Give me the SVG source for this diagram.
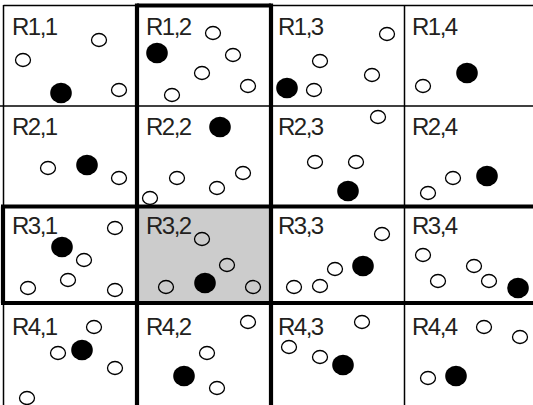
<svg xmlns="http://www.w3.org/2000/svg" width="533" height="405" viewBox="0 0 533 405">
<style>
.t{font-family:"Liberation Sans",Arial,sans-serif;font-size:24px;fill:#231f20;letter-spacing:-1.5px}
.o{fill:none;stroke:#000;stroke-width:1.3}
.f{fill:#000}
.thin{stroke:#000;stroke-width:1.5;fill:none}
.thick{stroke:#000;stroke-width:4.2;fill:none}
</style>
<defs>
<ellipse id="oc" class="o" cx="0" cy="0" rx="7.5" ry="6.5"/>
<ellipse id="fc" class="f" cx="0" cy="0" rx="10.8" ry="10.3"/>
</defs>
<rect width="533" height="405" fill="#fff"/>
<g id="grid">
<rect x="137" y="206.5" width="134" height="96.5" fill="#cccccc"/>
<line class="thin" x1="3.5" y1="5.5" x2="533" y2="5.5"/>
<line class="thin" x1="0" y1="106" x2="533" y2="106"/>
<line class="thin" x1="3.5" y1="5" x2="3.5" y2="405"/>
<line class="thin" x1="404.5" y1="5" x2="404.5" y2="405"/>
<line class="thick" x1="137" y1="5.5" x2="271" y2="5.5"/>
<line class="thick" x1="137" y1="3.5" x2="137" y2="405"/>
<line class="thick" x1="271" y1="3.5" x2="271" y2="405"/>
<line class="thick" x1="1" y1="206.5" x2="533" y2="206.5"/>
<line class="thick" x1="1" y1="303" x2="533" y2="303"/>
<line class="thick" x1="3" y1="206.5" x2="3" y2="303"/>
</g>
<g id="R1_1"><text class="t" x="12" y="35">R1,1</text>
<use href="#oc" x="99" y="40"/><use href="#oc" x="23" y="60"/><use href="#oc" x="119" y="90"/><use href="#fc" x="61" y="93"/></g>
<g id="R1_2"><text class="t" x="146" y="35">R1,2</text>
<use href="#fc" x="157" y="53"/><use href="#oc" x="213" y="33"/><use href="#oc" x="233" y="55"/><use href="#oc" x="202" y="73"/><use href="#oc" x="248" y="86"/><use href="#oc" x="172" y="95"/></g>
<g id="R1_3"><text class="t" x="278" y="35">R1,3</text>
<use href="#oc" x="387" y="34"/><use href="#oc" x="320" y="61"/><use href="#oc" x="372" y="75"/><use href="#oc" x="314" y="90"/><use href="#fc" x="287" y="88"/></g>
<g id="R1_4"><text class="t" x="412" y="35">R1,4</text>
<use href="#fc" x="467" y="73"/><use href="#oc" x="423" y="86"/></g>
<g id="R2_1"><text class="t" x="12" y="135">R2,1</text>
<use href="#oc" x="48" y="168"/><use href="#fc" x="87" y="165"/><use href="#oc" x="119" y="178"/></g>
<g id="R2_2"><text class="t" x="146" y="135">R2,2</text>
<use href="#fc" x="220" y="127"/><use href="#oc" x="243" y="173"/><use href="#oc" x="177" y="178"/><use href="#oc" x="217" y="188"/><use href="#oc" x="150" y="198"/></g>
<g id="R2_3"><text class="t" x="278" y="135">R2,3</text>
<use href="#oc" x="378" y="117"/><use href="#oc" x="315" y="162"/><use href="#oc" x="356" y="162"/><use href="#fc" x="348" y="191"/></g>
<g id="R2_4"><text class="t" x="412" y="135">R2,4</text>
<use href="#fc" x="487" y="176"/><use href="#oc" x="453" y="178"/><use href="#oc" x="428" y="193"/></g>
<g id="R3_1"><text class="t" x="12" y="234">R3,1</text>
<use href="#oc" x="115" y="228"/><use href="#fc" x="62" y="247"/><use href="#oc" x="84" y="260"/><use href="#oc" x="68" y="280"/><use href="#oc" x="28" y="288"/><use href="#oc" x="115" y="290"/></g>
<g id="R3_2"><text class="t" x="146" y="234">R3,2</text>
<use href="#oc" x="202" y="239"/><use href="#oc" x="227" y="265"/><use href="#fc" x="205" y="283"/><use href="#oc" x="166" y="287"/><use href="#oc" x="253" y="287"/></g>
<g id="R3_3"><text class="t" x="278" y="234">R3,3</text>
<use href="#oc" x="382" y="234"/><use href="#fc" x="363" y="266"/><use href="#oc" x="335" y="269"/><use href="#oc" x="320" y="286"/><use href="#oc" x="294" y="287"/></g>
<g id="R3_4"><text class="t" x="412" y="234">R3,4</text>
<use href="#oc" x="423" y="255"/><use href="#oc" x="474" y="266"/><use href="#oc" x="438" y="281"/><use href="#oc" x="489" y="281"/><use href="#fc" x="518" y="288"/></g>
<g id="R4_1"><text class="t" x="12" y="335">R4,1</text>
<use href="#oc" x="94" y="327"/><use href="#oc" x="58" y="353"/><use href="#fc" x="82" y="350"/><use href="#oc" x="115" y="368"/><use href="#oc" x="27" y="398"/></g>
<g id="R4_2"><text class="t" x="146" y="335">R4,2</text>
<use href="#oc" x="248" y="322"/><use href="#oc" x="207" y="353"/><use href="#fc" x="184" y="376"/><use href="#oc" x="217" y="388"/></g>
<g id="R4_3"><text class="t" x="278" y="335">R4,3</text>
<use href="#oc" x="362" y="322"/><use href="#oc" x="289" y="347"/><use href="#oc" x="320" y="357"/><use href="#fc" x="343" y="365"/></g>
<g id="R4_4"><text class="t" x="412" y="335">R4,4</text>
<use href="#oc" x="484" y="327"/><use href="#oc" x="520" y="337"/><use href="#oc" x="428" y="378"/><use href="#fc" x="456" y="376"/></g>
</svg>
